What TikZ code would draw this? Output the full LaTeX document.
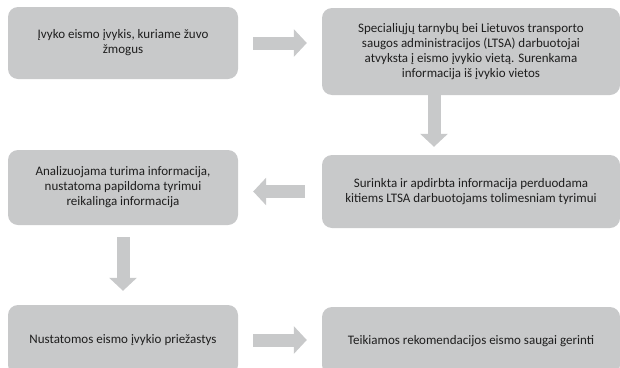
\documentclass[tikz,border=0pt]{standalone}
\usepackage{fontspec}
\setmainfont{Carlito}
\usepackage{tikz}
\usetikzlibrary{positioning,calc,arrows.meta}
\definecolor{boxfill}{HTML}{C8C9CA}
\definecolor{arrowfill}{HTML}{C8C9CA}
\definecolor{textgray}{HTML}{1E1E1E}
\tikzset{
  % --- process steps (grey rounded blocks, no border) ---
  stepbox/.style={fill=boxfill, rounded corners=10pt, align=center,
                  text=textgray, inner sep=4pt,
                  font=\fontsize{13}{15}\selectfont},
  leftbox/.style={stepbox, minimum width=230pt},
  rightbox/.style={stepbox, minimum width=298pt},
  % --- thick block arrows between steps ---
  blockarrow/.style={draw=arrowfill, line width=13pt,
                     -{Triangle[length=13pt,width=27pt]}},
}

\begin{document}
\begin{tikzpicture}[x=1pt, y=-1pt]
  \useasboundingbox (0,0) rectangle (620,367);
  \clip (0,0) rectangle (620,367);

  % --- row 1 ---
  \node[leftbox, minimum height=72pt] (s1) at (123,43)
        {Įvyko eismo įvykis, kuriame žuvo\\žmogus};
  \node[rightbox, minimum height=87pt] (s2) at (471,51.5)
        {Specialiųjų tarnybų bei Lietuvos transporto\\saugos administracijos (LTSA) darbuotojai\\atvyksta į eismo įvykio vietą. Surenkama\\informacija iš įvykio vietos};

  % --- row 2 ---
  \node[leftbox, minimum height=75pt] (s3) at (123,187.5)
        {Analizuojama turima informacija,\\nustatoma papildoma tyrimui\\reikalinga informacija};
  \node[rightbox, minimum height=73pt] (s4) at (471,191.5)
        {Surinkta ir apdirbta informacija perduodama\\kitiems LTSA darbuotojams tolimesniam tyrimui};

  % --- row 3 (cut off at the bottom) ---
  \node[leftbox, minimum height=70pt] (s5) at (123,340)
        {Nustatomos eismo įvykio priežastys};
  \node[rightbox, minimum height=68pt] (s6) at (471,341)
        {Teikiamos rekomendacijos eismo saugai gerinti};

  % --- flow ---
  \foreach \a/\b in {s1/s2,s5/s6}
      \draw[blockarrow, shorten <=15pt, shorten >=15pt] (\a.east) -- (\a.east -| \b.west);
  \draw[blockarrow, shorten >=8pt] ([xshift=-37pt]s2.south) -- ([xshift=-37pt]s4.north);
  \draw[blockarrow, shorten <=17pt, shorten >=15pt] (s4.west) -- (s4.west -| s3.east);
  \draw[blockarrow, shorten <=12pt, shorten >=14pt] (s3.south) -- (s5.north);
\end{tikzpicture}
\end{document}
